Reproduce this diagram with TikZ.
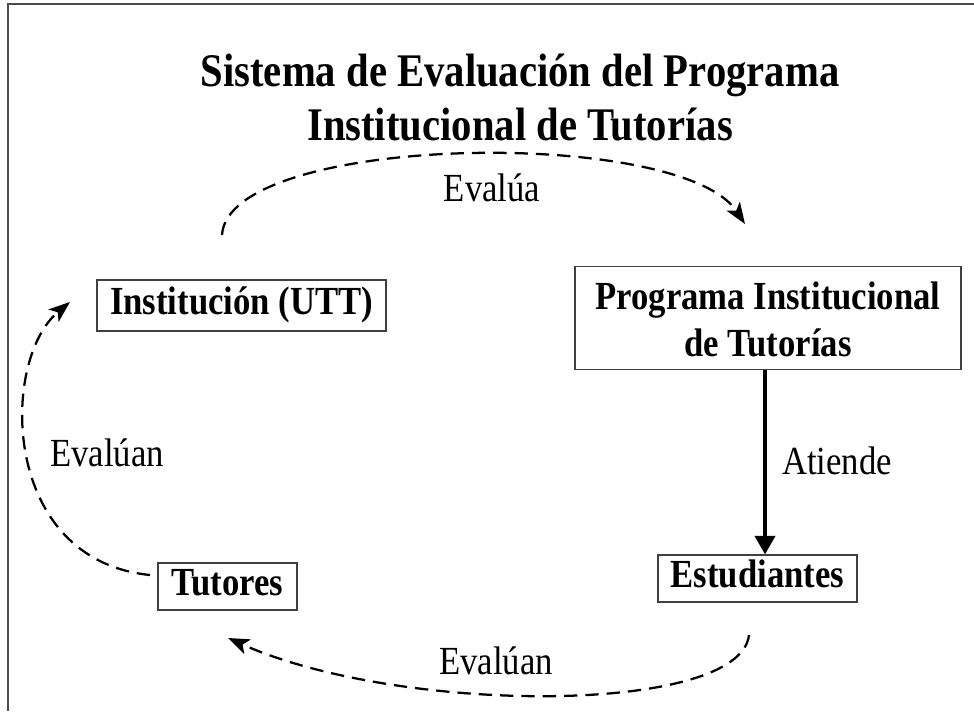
\documentclass[tikz,border=0pt]{standalone}
\usepackage{fontspec}
\setmainfont{Liberation Serif}
\usetikzlibrary{arrows.meta}
\newcommand{\tallt}[1]{\scalebox{1}[1.15]{\begin{tabular}{@{}c@{}}#1\end{tabular}}}
\begin{document}
\begin{tikzpicture}[x=0.75pt,y=-0.75pt,
  box/.style={draw=black!75,line width=0.8pt,inner sep=0pt,align=center,font=\fontsize{26}{29}\selectfont\bfseries},
  lbl/.style={inner sep=0pt,font=\fontsize{26}{30}\selectfont},
  evarrow/.style={line width=1.7pt,dash pattern=on 10pt off 6pt,-{Stealth[length=16pt,width=12pt,inset=4pt]}},
  solidarrow/.style={line width=3pt,-{Triangle[length=14pt,width=15pt]}}]
\useasboundingbox (0,0) rectangle (974,711);
\draw[black!70,line width=1.2pt] (974,4) -- (8,4) -- (8,711);
\node[inner sep=0pt,font=\fontsize{30.5}{35}\selectfont\bfseries] (title) at (520,103) {\tallt{Sistema de Evaluación del Programa\\Institucional de Tutorías}};
\node[box,minimum width=289*0.75pt,minimum height=51*0.75pt] (inst) at (241.5,305.5) {\tallt{\rule{0pt}{21pt}Institución (UTT)}};
\node[box,minimum width=386*0.75pt,minimum height=94*0.75pt] (prog) at (768,318) {\tallt{\rule{0pt}{28pt}Programa Institucional\\[2pt]de Tutorías}};
\node[box,minimum width=199*0.75pt,minimum height=47*0.75pt] (est) at (757.5,578.5) {\tallt{\rule{0pt}{21pt}Estudiantes}};
\node[box,minimum width=139*0.75pt,minimum height=47*0.75pt] (tut) at (227.5,586.5) {\tallt{\rule{0pt}{21pt}Tutores}};
\coordinate (a1) at (222,235);
\coordinate (a2) at (745,224);
\coordinate (b1) at (749,635);
\coordinate (b2) at (228,638);
\coordinate (c1) at (150,575);
\coordinate (c2) at (70,302);
\draw[evarrow] (a1) .. controls (228,134) and (680,126) .. (a2);
\draw[evarrow] (b1) .. controls (740,715) and (400,715) .. (b2);
\draw[evarrow] (c1) .. controls (0,560) and (0,360) .. (c2);
\draw[solidarrow] (prog.south -| 765,0) -- (est.north -| 765,0);
\node[lbl] (l1) at (492,192) {\tallt{Evalúa}};
\node[lbl] (l2) at (837,465) {\tallt{Atiende}};
\node[lbl] (l3) at (107,457) {\tallt{Evalúan}};
\node[lbl] (l4) at (496,665) {\tallt{Evalúan}};
\end{tikzpicture}
\end{document}
